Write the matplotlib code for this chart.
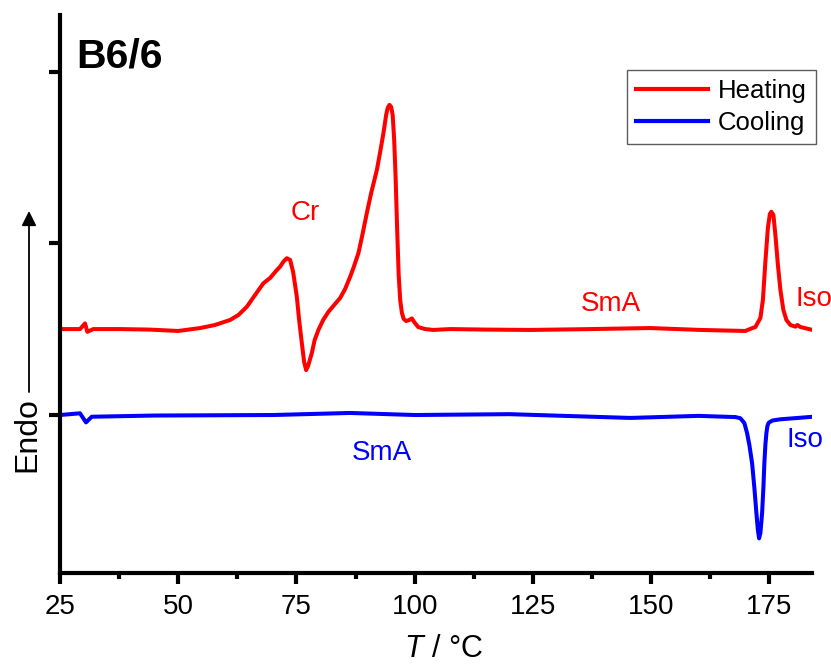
import matplotlib
matplotlib.use('Agg')
import matplotlib.pyplot as plt

plt.rcParams['font.family'] = ['Liberation Sans', 'DejaVu Sans']
plt.rcParams['mathtext.fontset'] = 'custom'
plt.rcParams['mathtext.it'] = 'Liberation Sans:italic'
plt.rcParams['mathtext.rm'] = 'Liberation Sans'

# DSC traces, temperature in degC, heat flow in arbitrary units (endo up)
heat_T = [25.0, 29.23, 30.29, 30.78, 32.04, 37.7, 44.0, 50.0, 54.62, 57.79,
          60.96, 62.72, 64.50, 66.25, 68.0, 69.43, 70.84, 71.54, 72.24, 72.96,
          73.66, 74.29, 75.07, 75.56, 76.13, 76.62, 77.04, 77.46, 78.25, 78.84,
          79.64, 80.64, 81.76, 82.96, 84.23, 85.29, 86.35, 87.19, 88.11, 88.89,
          89.88, 90.79, 92.0, 92.70, 93.39, 93.96, 94.28, 94.66, 95.02, 95.34,
          95.66, 95.98, 96.29, 96.61, 96.93, 97.29, 97.67, 98.20, 98.83, 99.40,
          99.89, 100.73, 102.22, 103.91, 107.5, 115.0, 124.4, 135.0, 149.8,
          160.4, 169.91, 171.39, 172.03, 173.09, 173.62, 174.14, 174.67, 175.09,
          175.41, 175.84, 176.26, 176.79, 177.32, 177.95, 178.59, 179.43, 180.49,
          180.91, 181.55, 184.09]
heat_v = [0.501, 0.501, 0.534, 0.485, 0.501, 0.501, 0.498, 0.490, 0.507, 0.525,
          0.554, 0.583, 0.631, 0.700, 0.768, 0.799, 0.845, 0.865, 0.894, 0.914,
          0.904, 0.834, 0.690, 0.554, 0.420, 0.309, 0.262, 0.286, 0.362, 0.437,
          0.496, 0.554, 0.602, 0.641, 0.682, 0.735, 0.806, 0.869, 0.945, 1.044,
          1.178, 1.294, 1.429, 1.534, 1.644, 1.749, 1.790, 1.808, 1.796, 1.749,
          1.603, 1.370, 1.079, 0.816, 0.671, 0.595, 0.560, 0.548, 0.554, 0.563,
          0.542, 0.513, 0.501, 0.496, 0.501, 0.498, 0.496, 0.500, 0.507,
          0.496, 0.490, 0.507, 0.513, 0.566, 0.671, 0.892, 1.090, 1.172,
          1.185, 1.166, 1.050, 0.875, 0.729, 0.612, 0.554, 0.525, 0.515,
          0.525, 0.513, 0.496]

cool_T = [25.0, 29.23, 30.50, 31.71, 45.0, 70.0, 86.3, 100.0, 120.0, 145.6,
          160.0, 167.80, 168.86, 169.70, 170.27, 170.76, 171.33, 171.82, 172.24,
          172.56, 172.81, 173.09, 173.45, 173.72, 173.93, 174.14, 174.36, 174.57,
          174.84, 175.63, 177.32, 184.23]
cool_v = [0.000, 0.010, -0.043, -0.010, -0.003, 0.000, 0.012, 0.000, 0.005,
          -0.017, -0.005, -0.012, -0.019, -0.047, -0.105, -0.175, -0.280, -0.426,
          -0.571, -0.671, -0.719, -0.688, -0.571, -0.426, -0.280, -0.175, -0.105,
          -0.064, -0.045, -0.032, -0.025, -0.010]

W, H = 831, 666
fig = plt.figure(figsize=(W / 100, H / 100), dpi=100)
ax = fig.add_axes([60 / W, 1 - 573 / H, (812 - 60) / W, (573 - 15) / H])

ax.plot(heat_T, heat_v, color='#ff0000', lw=2.9, label='Heating')
ax.plot(cool_T, cool_v, color='#0000ff', lw=2.9, label='Cooling')

ax.set_xlim(25, 184)
ax.set_ylim(-0.921, 2.332)
ax.set_xticks([25, 50, 75, 100, 125, 150, 175])
ax.set_xticks([37.5, 62.5, 87.5, 112.5, 137.5, 162.5], minor=True)
ax.set_yticks([0, 1, 2])
ax.set_yticklabels([])

for side in ['top', 'right']:
    ax.spines[side].set_visible(False)
for side in ['left', 'bottom']:
    ax.spines[side].set_linewidth(3)
ax.tick_params(axis='both', which='major', direction='out', length=8, width=3,
               labelsize=20, pad=7)
ax.tick_params(axis='x', which='minor', direction='out', length=4, width=3)

# phase labels
ax.text(76.8, 1.178, 'Cr', color='#ff0000', fontsize=20, ha='center', va='center')
ax.text(141.4, 0.647, 'SmA', color='#ff0000', fontsize=20, ha='center', va='center')
ax.text(180.5, 0.675, 'Iso', color='#ff0000', fontsize=20, ha='left', va='center')
ax.text(93.1, -0.222, 'SmA', color='#0000ff', fontsize=20, ha='center', va='center')
ax.text(178.7, -0.146, 'Iso', color='#0000ff', fontsize=20, ha='left', va='center')

fig.text(76 / W, 1 - 57 / H, 'B6/6', fontsize=29.5, fontweight='bold',
         ha='left', va='center')
fig.text(443 / W, 1 - 649 / H, '$T$ / °C', fontsize=22, ha='center', va='center')

# Endo arrow on the left
fig.text(27.5 / W, 1 - 435 / H, 'Endo', fontsize=23, rotation=90,
         ha='center', va='center')
ax.annotate('', xy=(29 / W, 1 - 211 / H), xytext=(29 / W, 1 - 392 / H),
            xycoords='figure fraction', textcoords='figure fraction',
            arrowprops=dict(arrowstyle='-|>', color='black', lw=1.3,
                            mutation_scale=22, shrinkA=0, shrinkB=0))

leg = ax.legend(loc='upper right', bbox_to_anchor=(816 / W, 1 - 70 / H),
                bbox_transform=fig.transFigure, borderaxespad=0,
                fontsize=18.5, frameon=True, fancybox=False,
                handlelength=2.8, handletextpad=0.4, labelspacing=0.3,
                borderpad=0.35)
leg.get_frame().set_edgecolor('#333333')
leg.get_frame().set_linewidth(1.0)
for line in leg.get_lines():
    line.set_linewidth(3)

fig.savefig('out.png', dpi=100)
